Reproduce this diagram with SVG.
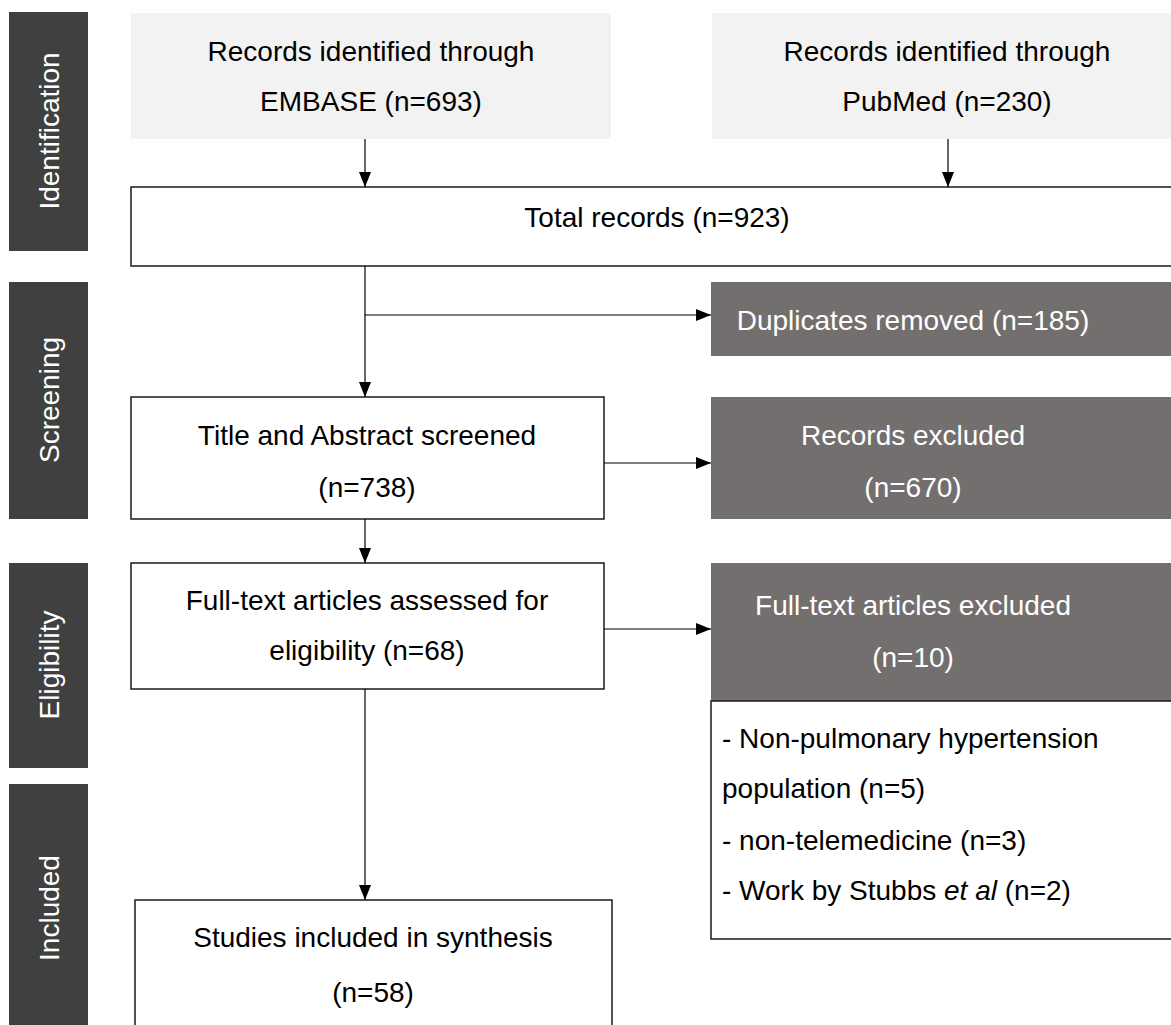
<svg xmlns="http://www.w3.org/2000/svg" width="1171" height="1025" viewBox="0 0 1171 1025">
<style>
.bar{fill:#404040}
.bt{fill:#fff;font-family:"Liberation Sans",Arial,sans-serif;font-size:28px;text-anchor:middle}
.lg{fill:#f2f2f2}
.wb{fill:#fff;stroke:#1a1a1a;stroke-width:1.5}
.dk{fill:#736f6e}
.t{fill:#000;font-family:"Liberation Sans",Arial,sans-serif;font-size:28px;text-anchor:middle}
.tl{fill:#000;font-family:"Liberation Sans",Arial,sans-serif;font-size:28px}
.tw{fill:#fff;font-family:"Liberation Sans",Arial,sans-serif;font-size:28px;text-anchor:middle}
.c{stroke:#000;stroke-width:1.2;fill:none;marker-end:url(#ah)}
</style>
<defs>
<marker id="ah" markerWidth="15" markerHeight="12" refX="15" refY="6" viewBox="0 0 15 12" orient="auto" markerUnits="userSpaceOnUse">
<path d="M0,0 L15,6 L0,12 Z" fill="#000"/>
</marker>
</defs>
<rect width="1171" height="1025" fill="#fff"/>
<g id="phase-identification"><rect class="bar" x="9" y="12" width="79" height="239"/><text class="bt" transform="translate(59,131) rotate(-90)">Identification</text></g>
<g id="phase-screening"><rect class="bar" x="9" y="282" width="79" height="237"/><text class="bt" transform="translate(59,400) rotate(-90)">Screening</text></g>
<g id="phase-eligibility"><rect class="bar" x="9" y="563" width="79" height="205"/><text class="bt" transform="translate(59,665) rotate(-90)">Eligibility</text></g>
<g id="phase-included"><rect class="bar" x="9" y="784" width="79" height="250"/><text class="bt" transform="translate(59,908) rotate(-90)">Included</text></g>

<g id="embase"><rect class="lg" x="131" y="13" width="480" height="126"/><text class="t" x="371" y="61">Records identified through</text><text class="t" x="371" y="111">EMBASE (n=693)</text></g>
<g id="pubmed"><rect class="lg" x="712" y="13" width="470" height="126"/><text class="t" x="947" y="61">Records identified through</text><text class="t" x="947" y="111">PubMed (n=230)</text></g>
<g id="total"><rect class="wb" x="131" y="187" width="1060" height="79"/><text class="t" x="657" y="227">Total records (n=923)</text></g>
<g id="duplicates"><rect class="dk" x="711" y="282" width="470" height="74"/><text class="tw" x="913" y="330">Duplicates removed (n=185)</text></g>
<g id="screened"><rect class="wb" x="131" y="397" width="473" height="122"/><text class="t" x="367" y="445">Title and Abstract screened</text><text class="t" x="367" y="497">(n=738)</text></g>
<g id="records-excluded"><rect class="dk" x="711" y="397" width="470" height="122"/><text class="tw" x="913" y="445">Records excluded</text><text class="tw" x="913" y="497">(n=670)</text></g>
<g id="fulltext"><rect class="wb" x="131" y="563" width="473" height="126"/><text class="t" x="367" y="610">Full-text articles assessed for</text><text class="t" x="367" y="660">eligibility (n=68)</text></g>
<g id="fulltext-excluded"><rect class="dk" x="711" y="563" width="470" height="138"/><text class="tw" x="913" y="615">Full-text articles excluded</text><text class="tw" x="913" y="667">(n=10)</text>
<rect class="wb" x="711" y="701" width="480" height="238"/>
<text class="tl" x="722" y="748">- Non-pulmonary hypertension</text>
<text class="tl" x="722" y="798">population (n=5)</text>
<text class="tl" x="722" y="850">- non-telemedicine (n=3)</text>
<text class="tl" x="722" y="900">- Work by Stubbs <tspan font-style="italic">et al</tspan> (n=2)</text></g>
<g id="included"><rect class="wb" x="135" y="900" width="477" height="140"/><text class="t" x="373" y="947">Studies included in synthesis</text><text class="t" x="373" y="1002">(n=58)</text></g>

<g id="connectors">
<path class="c" d="M365,139 V187"/>
<path class="c" d="M948,139 V187"/>
<path class="c" d="M365,266 V397"/>
<path class="c" d="M365,315 H711"/>
<path class="c" d="M365,519 V563"/>
<path class="c" d="M604,463 H711"/>
<path class="c" d="M604,629 H711"/>
<path class="c" d="M365,689 V900"/>
</g>
</svg>
